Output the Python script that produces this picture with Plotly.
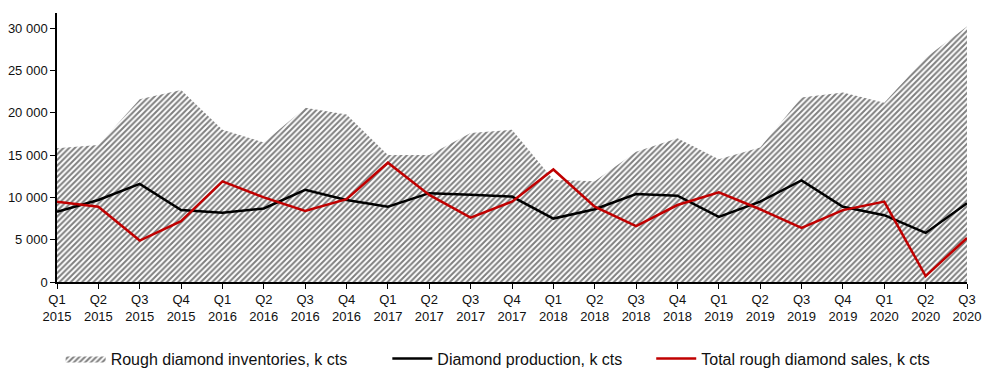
import plotly.graph_objects as go

quarters = ["Q1<br>2015", "Q2<br>2015", "Q3<br>2015", "Q4<br>2015",
            "Q1<br>2016", "Q2<br>2016", "Q3<br>2016", "Q4<br>2016",
            "Q1<br>2017", "Q2<br>2017", "Q3<br>2017", "Q4<br>2017",
            "Q1<br>2018", "Q2<br>2018", "Q3<br>2018", "Q4<br>2018",
            "Q1<br>2019", "Q2<br>2019", "Q3<br>2019", "Q4<br>2019",
            "Q1<br>2020", "Q2<br>2020", "Q3<br>2020"]

inventories = [15800, 16200, 21600, 22700, 18000, 16500, 20600, 19800,
               15000, 15000, 17600, 18000, 12100, 11900, 15400, 17000,
               14500, 15900, 21800, 22400, 21200, 26500, 30200]

production = [8300, 9700, 11600, 8500, 8200, 8700, 10900, 9700,
              8900, 10500, 10300, 10100, 7500, 8600, 10400, 10200,
              7700, 9500, 12000, 8900, 7900, 5800, 9300]

sales = [9500, 8900, 4900, 7200, 11900, 10000, 8400, 9800,
         14100, 10300, 7600, 9500, 13300, 8900, 6600, 9100,
         10600, 8600, 6400, 8500, 9500, 700, 5200]

y_ticks = [0, 5000, 10000, 15000, 20000, 25000, 30000]

x = list(range(len(quarters)))

fig = go.Figure()
fig.add_trace(go.Scatter(
    x=x, y=inventories, name="Rough diamond inventories, k cts",
    mode="lines", line=dict(width=0, color="black"),
    fill="tozeroy", fillcolor="white",
    fillpattern=dict(shape="/", fgcolor="black", bgcolor="white",
                     size=4, solidity=0.5),
    legend="legend",
))
fig.add_trace(go.Scatter(
    x=x, y=production, name="Diamond production, k cts",
    mode="lines", line=dict(width=2.5, color="black"),
    legend="legend2",
))
fig.add_trace(go.Scatter(
    x=x, y=sales, name="Total rough diamond sales, k cts",
    mode="lines", line=dict(width=2.5, color="#C00000"),
    legend="legend3",
))

leg_common = dict(orientation="h", y=-0.222, yanchor="top", xanchor="left",
                  font=dict(size=16, color="#111111"), itemwidth=40,
                  bgcolor="rgba(0,0,0,0)")

fig.update_layout(
    width=1000, height=380,
    margin=dict(l=49, r=41, t=5, b=106),
    plot_bgcolor="white", paper_bgcolor="white",
    font=dict(family="Liberation Sans, Arial, sans-serif", size=13, color="#111111"),
    separators=". ",
    showlegend=True,
    legend=dict(x=0.004, **leg_common),
    legend2=dict(x=0.363, **leg_common),
    legend3=dict(x=0.653, **leg_common),
)
fig.update_xaxes(
    range=[0, len(quarters) - 1], tickmode="array", tickvals=x, ticktext=quarters,
    showline=True, linecolor="black", linewidth=1.5, ticks="outside",
    tickcolor="black", ticklen=5, showgrid=False, zeroline=False,
    tickfont=dict(size=13), automargin=False,
)
fig.update_yaxes(
    range=[0, 31800], tickmode="array", tickvals=y_ticks, tickformat=",d",
    showline=True, linecolor="black", linewidth=1.5, ticks="outside",
    tickcolor="black", ticklen=5, showgrid=False, zeroline=False,
    tickfont=dict(size=13), automargin=False,
)

fig.write_html("out.html")
